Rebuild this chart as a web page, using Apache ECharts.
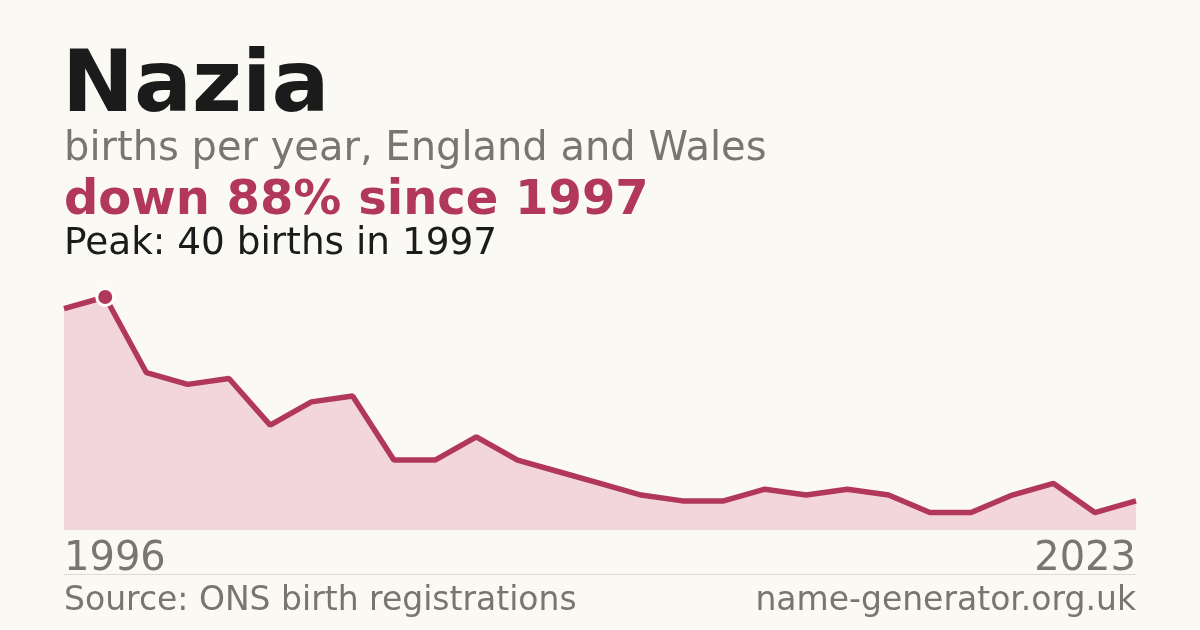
<!DOCTYPE html>
<html>
<head>
<meta charset="utf-8">
<script src="https://cdn.jsdelivr.net/npm/echarts@6/dist/echarts.min.js"></script>
<style>
  html, body { margin: 0; padding: 0; background: #faf9f4; }
  #chart { width: 1200px; height: 630px; }
</style>
</head>
<body>
<div id="chart"></div>
<script>
// years shown on the chart (one year has no published count)
const years = [1996, 1997, 1998, 1999, 2000, 2001, 2002, 2003, 2004, 2005,
  2006, 2007, 2008, 2009, 2010, 2011, 2012, 2013, 2014, 2015,
  2016, 2017, 2018, 2020, 2021, 2022, 2023];
const births = [38, 40, 27, 25, 26, 18, 22, 23, 12, 12,
  16, 12, 10, 8, 6, 5, 5, 7, 6, 7,
  6, 3, 3, 6, 8, 3, 5];

const red = "#b2385a";
const grey = "#7a756e";
const font = "DejaVu Sans";

const peak = Math.max(...births);
const peakIdx = births.indexOf(peak);

var myChart = echarts.init(document.getElementById("chart"), null, { renderer: "canvas" });

var option = {
  backgroundColor: "#faf9f4",
  animation: false,
  grid: { left: 64, right: 64, top: 297, bottom: 100 },
  xAxis: {
    type: "category",
    data: years.map(String),
    boundaryGap: false,
    axisLine: { show: false },
    axisTick: { show: false },
    axisLabel: {
      interval: (i) => i === 0 || i === years.length - 1,
      alignMinLabel: "left",
      alignMaxLabel: "right",
      margin: 10,
      color: grey,
      fontFamily: font,
      fontSize: 40,
    },
  },
  yAxis: {
    type: "value",
    min: 0,
    max: 40,
    show: false,
    splitLine: { show: false },
  },
  series: [
    {
      type: "line",
      data: births.map((v, i) =>
        i === peakIdx
          ? {
              value: v,
              symbol: "circle",
              symbolSize: 17,
              itemStyle: { color: red, borderColor: "#ffffff", borderWidth: 3 },
            }
          : { value: v, symbol: "none" }
      ),
      showSymbol: true,
      lineStyle: { color: red, width: 5.5 },
      areaStyle: { color: "#f2d6dc", opacity: 1 },
      z: 3,
    },
  ],
  graphic: [
    {
      type: "text", left: 62, top: 46,
      style: { text: "Nazia", fill: "#1b1b1b", font: "bold 86px 'DejaVu Sans'" },
    },
    {
      type: "text", left: 64, top: 130,
      style: { text: "births per year, England and Wales", fill: grey, font: "40px 'DejaVu Sans'" },
    },
    {
      type: "text", left: 64, top: 178,
      style: { text: "down 88% since 1997", fill: red, font: "bold 48px 'DejaVu Sans'" },
    },
    {
      type: "text", left: 64, top: 226,
      style: { text: "Peak: 40 births in 1997", fill: "#1b1b1b", font: "37.4px 'DejaVu Sans'" },
    },
    {
      type: "rect",
      shape: { x: 64, y: 574, width: 1072, height: 1 },
      style: { fill: "#ddd9d1" },
    },
    {
      type: "text", left: 64, top: 585,
      style: { text: "Source: ONS birth registrations", fill: grey, font: "33px 'DejaVu Sans'" },
    },
    {
      type: "text", right: 64, top: 585,
      style: { text: "name-generator.org.uk", fill: grey, font: "33px 'DejaVu Sans'" },
    },
  ],
};

myChart.setOption(option);
window.onresize = () => {
  myChart.resize();
};
</script>
</body>
</html>
